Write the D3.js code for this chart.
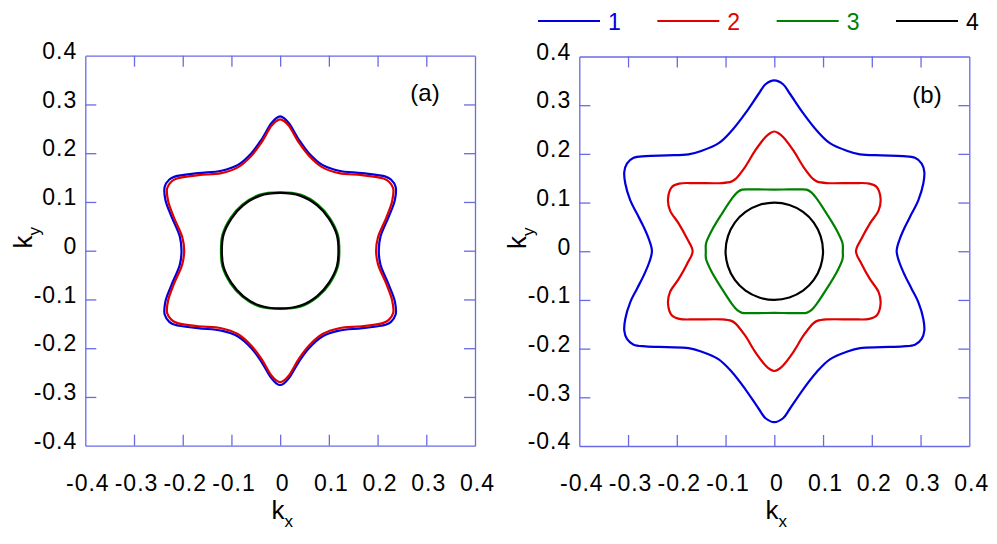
<!DOCTYPE html>
<html>
<head>
<meta charset="utf-8">
<script src="https://cdn.jsdelivr.net/npm/d3@7"></script>
<style>
  html, body { margin: 0; padding: 0; background: #fff; }
  svg { display: block; font-family: "Liberation Sans", Arial, sans-serif; }
</style>
</head>
<body>
<svg id="chart" width="997" height="544"></svg>
<script>
// ---- data (first quadrant of each contour; [kx, ky]) ----
const tickValues = [-0.4, -0.3, -0.2, -0.1, 0, 0.1, 0.2, 0.3, 0.4];
const tickLabels = ["-0.4", "-0.3", "-0.2", "-0.1", "0", "0.1", "0.2", "0.3", "0.4"];
const seriesNames = ["1", "2", "3", "4"];
const seriesColors = ["#0000dd", "#e00000", "#008000", "#000000"];
const panelLabels = ["(a)", "(b)"];

// panel (a)
const a1 = [[0.2025,0],[0.206,0.029],[0.223,0.070],[0.2355,0.104],[0.237,0.131],[0.2275,0.146],[0.2164,0.152],[0.1686,0.159],[0.1207,0.164],[0.0866,0.176],[0.059,0.200],[0.039,0.227],[0.018,0.2615],[0.008,0.272],[0,0.2755]];
const a2 = [[0.197,0],[0.201,0.028],[0.218,0.068],[0.230,0.102],[0.232,0.128],[0.223,0.142],[0.212,0.148],[0.168,0.155],[0.121,0.159],[0.087,0.171],[0.059,0.195],[0.039,0.221],[0.018,0.256],[0.008,0.266],[0,0.2695]];
const a3 = [[0.1215,0],[0.1185,0.0325],[0.102,0.067],[0.0775,0.0945],[0.043,0.1145],[0,0.1195]];
const a4 = [[0.1197,0],[0.1165,0.032],[0.100,0.066],[0.076,0.093],[0.042,0.1125],[0,0.1185]];
// panel (b)
const b1 = [[0.251,0],[0.2565,0.0226],[0.268,0.050],[0.2818,0.0773],[0.2954,0.1046],[0.3057,0.139],[0.3077,0.163],[0.3023,0.180],[0.2886,0.192],[0.264,0.1955],[0.220,0.197],[0.176,0.199],[0.150,0.206],[0.114,0.222],[0.087,0.248],[0.060,0.2825],[0.032,0.3235],[0.018,0.343],[0,0.351]];
const b2 = [[0.1675,0],[0.179,0.026],[0.196,0.0568],[0.214,0.084],[0.218,0.108],[0.210,0.132],[0.195,0.139],[0.162,0.140],[0.1075,0.140],[0.088,0.143],[0.080,0.148],[0.060,0.173],[0.039,0.207],[0.018,0.2345],[0.008,0.243],[0,0.246]];
const b3 = [[0.1405,0],[0.140,0.016],[0.128,0.043],[0.1075,0.077],[0.087,0.108],[0.076,0.121],[0.066,0.1265],[0.045,0.127],[0.030,0.127],[0,0.1266]];
const b4 = [[0.100,0],[0.095,0.031],[0.081,0.059],[0.059,0.081],[0.031,0.095],[0,0.100]];

const panelA = [a1, a2, a3, a4];
const panelB = [b1, b2, b3, b4];

// ---- drawing ----
const svg = d3.select("#chart");
const axisColor = "#6a6ae6";
const fontSize = 23;

// build a closed contour from a first-quadrant trace, mirrored across both axes
function closedLoop(q) {
  const n = q.length;
  const pts = [];
  for (let i = 0; i < n; i++) pts.push([q[i][0], q[i][1]]);
  for (let i = n - 2; i >= 0; i--) pts.push([-q[i][0], q[i][1]]);
  for (let i = 1; i < n; i++) pts.push([-q[i][0], -q[i][1]]);
  for (let i = n - 2; i >= 1; i--) pts.push([q[i][0], -q[i][1]]);
  return pts;
}

function drawPanel(cfg) {
  const x = d3.scaleLinear().domain([-0.4, 0.4]).range([cfg.left, cfg.right]);
  const y = d3.scaleLinear().domain([-0.4, 0.4]).range([cfg.bottom, cfg.top]);
  const g = svg.append("g");
  const fmt = d => tickLabels[tickValues.indexOf(d)];
  const inner = tickValues.slice(1, -1);

  // curves
  const line = d3.line().x(d => x(d[0])).y(d => y(d[1])).curve(d3.curveCatmullRomClosed.alpha(0.5));
  cfg.data.forEach((q, i) => {
    g.append("path")
      .attr("d", line(closedLoop(q)))
      .attr("fill", "none")
      .attr("stroke", seriesColors[i])
      .attr("stroke-width", 2.2);
  });

  // frame + inward ticks
  const bottom = g.append("g").attr("transform", `translate(0,${cfg.bottom})`)
    .call(d3.axisBottom(x).tickValues(tickValues).tickFormat(fmt).tickSizeInner(-11).tickSizeOuter(0).tickPadding(29));
  const top = g.append("g").attr("transform", `translate(0,${cfg.top})`)
    .call(d3.axisTop(x).tickValues(inner).tickFormat("").tickSizeInner(-11).tickSizeOuter(0));
  const left = g.append("g").attr("transform", `translate(${cfg.left},0)`)
    .call(d3.axisLeft(y).tickValues(tickValues).tickFormat(fmt).tickSizeInner(-11).tickSizeOuter(0).tickPadding(9));
  const right = g.append("g").attr("transform", `translate(${cfg.right},0)`)
    .call(d3.axisRight(y).tickValues(inner).tickFormat("").tickSizeInner(-11).tickSizeOuter(0));

  [bottom, top, left, right].forEach(ax => {
    ax.select(".domain").attr("stroke", axisColor).attr("stroke-width", 1.3);
    ax.selectAll(".tick line").attr("stroke", axisColor).attr("stroke-width", 1.3);
    ax.selectAll(".tick text").attr("fill", "#000").attr("font-size", fontSize)
      .attr("font-family", "'Liberation Sans', Arial, sans-serif")
      .attr("letter-spacing", 1);
  });
  // hide end ticks on the labelled axes (they coincide with the frame)
  bottom.selectAll(".tick line").filter(d => d === -0.4 || d === 0.4).remove();
  left.selectAll(".tick line").filter(d => d === -0.4 || d === 0.4).remove();
  bottom.selectAll(".tick text").attr("dx", 2);
  left.selectAll(".tick text").attr("dy", "0.12em").attr("dx", 1);

  // axis titles
  const kx = g.append("text").attr("x", (cfg.left + cfg.right) / 2 + 2).attr("y", 519)
    .attr("text-anchor", "middle").attr("font-size", 26).attr("fill", "#000");
  kx.append("tspan").text("k");
  kx.append("tspan").text("x").attr("font-size", 17).attr("dy", 8);

  const ky = g.append("text")
    .attr("transform", `translate(${cfg.left - 53},${(cfg.top + cfg.bottom) / 2 - 13}) rotate(-90)`)
    .attr("text-anchor", "middle").attr("font-size", 26).attr("fill", "#000");
  ky.append("tspan").text("k");
  ky.append("tspan").text("y").attr("font-size", 17).attr("dy", 8);

  // panel label
  g.append("text").attr("x", cfg.labelX).attr("y", cfg.labelY).attr("text-anchor", "middle")
    .attr("font-size", 24).attr("fill", "#000").text(cfg.label);
}

drawPanel({ left: 85.3, right: 475, top: 55.7, bottom: 445.7, data: panelA, label: panelLabels[0], labelX: 425, labelY: 101 });
drawPanel({ left: 579.3, right: 969.3, top: 56.5, bottom: 446, data: panelB, label: panelLabels[1], labelX: 927, labelY: 103 });

// legend
const legend = svg.append("g");
const legendX = d3.scaleLinear().domain([0, 3]).range([538, 896]);
seriesNames.forEach((name, i) => {
  const x0 = legendX(i);
  legend.append("line").attr("x1", x0).attr("x2", x0 + 62).attr("y1", 21).attr("y2", 21)
    .attr("stroke", seriesColors[i]).attr("stroke-width", 2);
  legend.append("text").attr("x", x0 + 70).attr("y", 30).attr("font-size", 23)
    .attr("fill", seriesColors[i]).text(name);
});
</script>
</body>
</html>
